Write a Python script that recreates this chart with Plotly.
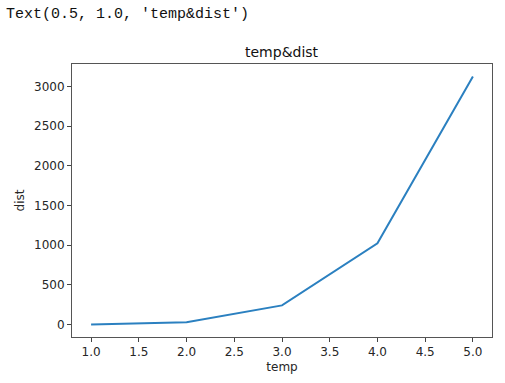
import plotly.graph_objects as go

temp = [1, 2, 3, 4, 5]
dist = [1, 32, 243, 1024, 3125]
x_ticks = [1.0, 1.5, 2.0, 2.5, 3.0, 3.5, 4.0, 4.5, 5.0]
y_ticks = [0, 500, 1000, 1500, 2000, 2500, 3000]

L, R, T, B = 72, 13, 64, 46

fig = go.Figure()
fig.add_trace(go.Scatter(x=temp, y=dist, mode="lines",
                         line=dict(color="#2b80c0", width=2)))

xr = (temp[-1] - temp[0]) * 0.05
yr = (max(dist) - min(dist)) * 0.05

axis_common = dict(showgrid=False, zeroline=False, showline=True, mirror=True,
                   linecolor="#555555", linewidth=1, ticks="outside", ticklen=4,
                   tickcolor="#444444", tickwidth=1,
                   tickfont=dict(family="DejaVu Sans", size=12, color="#262626"))

fig.update_layout(
    width=505, height=383,
    margin=dict(l=L, r=R, t=T, b=B),
    paper_bgcolor="white", plot_bgcolor="white",
    showlegend=False,
    xaxis=dict(range=[temp[0] - xr, temp[-1] + xr], tickvals=x_ticks,
               ticktext=[f"{v:.1f}" for v in x_ticks],
               title=dict(text="temp", font=dict(family="DejaVu Sans", size=12, color="#262626"),
                          standoff=4),
               **axis_common),
    yaxis=dict(range=[min(dist) - yr, max(dist) + yr], tickvals=y_ticks,
               title=dict(text="dist", font=dict(family="DejaVu Sans", size=12, color="#262626"),
                          standoff=6),
               **axis_common),
    annotations=[
        dict(text="temp&dist", xref="paper", yref="paper", x=0.5, y=1,
             xanchor="center", yanchor="bottom", yshift=2, showarrow=False,
             font=dict(family="DejaVu Sans", size=14, color="#111111")),
        dict(text="Text(0.5, 1.0, 'temp&dist')", xref="paper", yref="paper",
             x=0, y=1, xanchor="left", yanchor="middle", xshift=-(L - 4), yshift=T - 14,
             showarrow=False,
             font=dict(family="Liberation Mono", size=15, color="#111111")),
    ],
)

fig.write_html("out.html")
